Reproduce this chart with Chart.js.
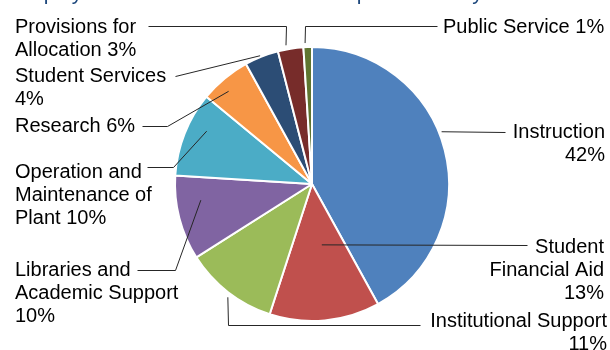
<!DOCTYPE html>
<html>
<head>
<meta charset="utf-8">
<script src="https://cdn.jsdelivr.net/npm/chart.js@4"></script>
<style>
  html, body { margin: 0; padding: 0; background: #ffffff; }
  #wrap { position: relative; width: 610px; height: 350px; }
</style>
</head>
<body>
<div id="wrap"><canvas id="pie"></canvas></div>
<script>
// Expenditures by function (percent of total)
const categories = [
  'Instruction',
  'Student Financial Aid',
  'Institutional Support',
  'Libraries and Academic Support',
  'Operation and Maintenance of Plant',
  'Research',
  'Student Services',
  'Provisions for Allocation',
  'Public Service'
];
const shares = [42, 13, 11, 10, 10, 6, 4, 3, 1];
const sliceColors = ['#4F81BD', '#C0504D', '#9BBB59', '#8064A2', '#4BACC6', '#F79646', '#2C4D75', '#772C2A', '#5F7530'];

const titleText = 'Display of Education and General Expenditures by Function';

// Label placement: words per line, text anchor, alignment, leader elbows
// (x === null means "use the anchor's x"), and where on the slice the
// leader ends (fraction along the arc, fraction of the radius).
const labelLayout = [
  { words: [1, 1],    x: 605, y: 132, align: 'right', elbows: [[505, 132]],               frac: 0.45, rf: 1.02 },
  { words: [1, 2, 1], x: 604, y: 247, align: 'right', elbows: [[527, 245]],               frac: 0.42, rf: 0.45 },
  { words: [2, 1],    x: 607, y: 321, align: 'right', elbows: [[420, 325], [null, 325]],  frac: 0.47, rf: 1.03 },
  { words: [2, 2, 1], x: 15,  y: 270, align: 'left',  elbows: [[137, 270], [175, 270]],   frac: 0.67, rf: 0.82 },
  { words: [2, 2, 2], x: 15,  y: 172, align: 'left',  elbows: [[147, 167], [173, 167]],   frac: 0.64, rf: 0.86 },
  { words: [2],       x: 15,  y: 126, align: 'left',  elbows: [[142, 126], [167, 126]],   frac: 0.39, rf: 0.91 },
  { words: [2, 1],    x: 15,  y: 76,  align: 'left',  elbows: [[175, 76]],                frac: 0.47, rf: 1.01 },
  { words: [2, 2],    x: 15,  y: 27,  align: 'left',  elbows: [[148, 26], [null, 26]],    frac: 0.35, rf: 1.03 },
  { words: [3],       x: 443, y: 27,  align: 'left',  elbows: [[437, 26], [null, 26]],    frac: 0.22, rf: 1.03 }
];

function labelLines(i) {
  const tokens = (categories[i] + ' ' + shares[i] + '%').split(' ');
  const out = [];
  let k = 0;
  for (const n of labelLayout[i].words) {
    out.push(tokens.slice(k, k + n).join(' '));
    k += n;
  }
  return out;
}

const calloutPlugin = {
  id: 'callouts',
  afterDraw(chart) {
    const ctx = chart.ctx;
    const meta = chart.getDatasetMeta(0);
    ctx.save();

    // Heading (runs off the top edge)
    ctx.font = '21px "Liberation Sans", Arial, sans-serif';
    ctx.fillStyle = '#1F497D';
    ctx.textAlign = 'left';
    ctx.textBaseline = 'alphabetic';
    ctx.fillText(titleText, 13.5, 0);

    ctx.font = '20px "Liberation Sans", Arial, sans-serif';
    ctx.textBaseline = 'middle';
    meta.data.forEach((arc, i) => {
      const L = labelLayout[i];
      const p = arc.getProps(['x', 'y', 'startAngle', 'endAngle', 'outerRadius'], true);
      const a = p.startAngle + L.frac * (p.endAngle - p.startAngle);
      const ax = p.x + Math.cos(a) * p.outerRadius * L.rf;
      const ay = p.y + Math.sin(a) * p.outerRadius * L.rf;

      ctx.strokeStyle = '#262626';
      ctx.lineWidth = 1;
      ctx.beginPath();
      L.elbows.forEach(([ex, ey], j) => {
        const px = (ex === null ? Math.round(ax) : ex) + 0.5;
        const py = ey + 0.5;
        if (j === 0) ctx.moveTo(px, py); else ctx.lineTo(px, py);
      });
      ctx.lineTo(ax, ay);
      ctx.stroke();

      ctx.fillStyle = '#000000';
      ctx.textAlign = L.align;
      labelLines(i).forEach((t, j) => ctx.fillText(t, L.x, L.y + j * 23.4));
    });
    ctx.restore();
  }
};

new Chart(document.getElementById('pie'), {
  type: 'pie',
  data: {
    labels: categories,
    datasets: [{
      data: shares,
      backgroundColor: sliceColors,
      borderColor: '#ffffff',
      borderWidth: 2
    }]
  },
  options: {
    responsive: true,
    maintainAspectRatio: false,
    animation: false,
    layout: { padding: { left: 174, right: 160, top: 46, bottom: 28 } },
    plugins: {
      legend: { display: false },
      title: { display: false },
      tooltip: { enabled: false }
    }
  },
  plugins: [calloutPlugin]
});
</script>
</body>
</html>
